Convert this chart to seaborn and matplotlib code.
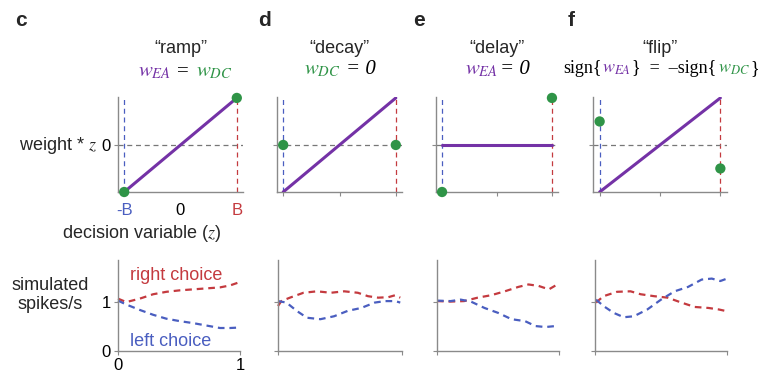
import numpy as np
import pandas as pd
import matplotlib
matplotlib.use("Agg")
import matplotlib.pyplot as plt
import seaborn as sns

# ---------------- data ----------------
panel_letters = ["c", "d", "e", "f"]
panel_titles = ["\u201cramp\u201d", "\u201cdecay\u201d", "\u201cdelay\u201d", "\u201cflip\u201d"]

# top row: weight * z as function of decision variable z (−B .. B)
z_ends = [-1, 1]
ramp_purple = [-1, 1]
decay_purple = [-1, 1]
delay_purple = [0, 0]
flip_purple = [-1, 1]
ramp_green = [-1, 1]
decay_green = [0, 0]
delay_green = [-1, 1]
flip_green = [0.5, -0.5]

# bottom row: simulated spikes/s vs normalized time
c_red_x = [0, .068, .178, .288, .397, .507, .616, .726, .836, .918, 1.0]
c_red_y = [1.07, 1.0, 1.07, 1.16, 1.21, 1.24, 1.26, 1.28, 1.30, 1.34, 1.41]
c_blue_x = [0, .068, .178, .288, .397, .507, .616, .726, .836, .918, 1.0]
c_blue_y = [1.03, 0.95, 0.84, 0.74, 0.66, 0.61, 0.57, 0.52, 0.47, 0.47, 0.48]

d_red_x = [0, .027, .096, .205, .315, .425, .534, .644, .726, .808, .890, .945, .986]
d_red_y = [0.92, 1.02, 1.09, 1.19, 1.22, 1.19, 1.22, 1.19, 1.12, 1.09, 1.10, 1.14, 1.09]
d_blue_x = [0, .068, .151, .233, .342, .452, .562, .671, .781, .863, .945, .986]
d_blue_y = [1.02, 0.99, 0.82, 0.68, 0.65, 0.71, 0.82, 0.88, 0.99, 1.02, 1.02, 0.99]

e_red_x = [0, .111, .222, .333, .444, .556, .667, .75, .833, .917, .986]
e_red_y = [1.02, 1.01, 1.02, 1.09, 1.14, 1.22, 1.31, 1.36, 1.33, 1.26, 1.36]
e_blue_x = [0, .111, .194, .278, .389, .5, .611, .722, .806, .889, .972]
e_blue_y = [1.03, 1.02, 1.05, 1.01, 0.88, 0.78, 0.65, 0.61, 0.51, 0.49, 0.51]

f_red_x = [.008, .064, .167, .269, .346, .449, .551, .654, .756, .859, .936, .987]
f_red_y = [0.99, 1.12, 1.21, 1.22, 1.16, 1.12, 1.09, 0.99, 0.90, 0.88, 0.85, 0.82]
f_blue_x = [.008, .064, .141, .218, .295, .397, .5, .603, .705, .808, .885, .949, 1.0]
f_blue_y = [1.05, 0.92, 0.78, 0.69, 0.71, 0.85, 1.05, 1.22, 1.31, 1.46, 1.48, 1.43, 1.48]

purple_sets = [ramp_purple, decay_purple, delay_purple, flip_purple]
green_sets = [ramp_green, decay_green, delay_green, flip_green]
bottom_sets = [
    (c_red_x, c_red_y, c_blue_x, c_blue_y),
    (d_red_x, d_red_y, d_blue_x, d_blue_y),
    (e_red_x, e_red_y, e_blue_x, e_blue_y),
    (f_red_x, f_red_y, f_blue_x, f_blue_y),
]

# ---------------- style ----------------
sns.set_style("ticks")
plt.rcParams["font.family"] = ["Liberation Sans", "DejaVu Sans"]
plt.rcParams["mathtext.fontset"] = "stix"

PURPLE = "#7432a6"
GREEN = "#2f9447"
RED = "#c43a3f"
BLUE = "#4a5ec0"
GRAY = "#8a8a8a"

W, H = 761, 377
fig = plt.figure(figsize=(W / 100, H / 100), dpi=100)


def px_axes(l, r, t, b):
    return fig.add_axes([l / W, 1 - b / H, (r - l) / W, (b - t) / H])


top_x = [(118, 243), (277, 402), (436, 558), (593, 727)]
bot_x = [(118, 240), (278, 402), (437, 559), (595, 727)]


def style_axes(ax):
    for s in ["top", "right"]:
        ax.spines[s].set_visible(False)
    for s in ["left", "bottom"]:
        ax.spines[s].set_color(GRAY)
        ax.spines[s].set_linewidth(1.0)
    ax.tick_params(colors=GRAY, length=3, width=0.8, labelcolor="black",
                   labelsize=12, pad=2)


# ---------------- top row ----------------
for i in range(4):
    l, r = top_x[i]
    ax = px_axes(l, r, 97, 192)
    ax.set_xlim(-1.11, 1.11)
    ax.set_ylim(-1, 1.02)
    style_axes(ax)
    ax.axvline(-1, color=BLUE, lw=0.9, ls=(0, (4, 3)), zorder=1)
    ax.axvline(1, color=RED, lw=0.9, ls=(0, (4, 3)), zorder=1)
    ax.axhline(0, color="#777777", lw=0.9, ls=(0, (4, 3)), zorder=1)
    sns.lineplot(x=z_ends, y=purple_sets[i], ax=ax, color=PURPLE, lw=2.2,
                 sort=False, zorder=3)
    sns.scatterplot(x=z_ends, y=green_sets[i], ax=ax, color=GREEN, s=55,
                    edgecolor="none", zorder=5, clip_on=False)
    ax.set_xticks([-1, 0, 1])
    ax.set_yticks([0])
    ax.set_xlabel("")
    ax.set_ylabel("")
    if i == 0:
        ax.set_xticklabels(["-B", "0", "B"])
        tl = ax.get_xticklabels()
        tl[0].set_color(BLUE)
        tl[2].set_color(RED)
        ax.set_yticklabels(["0"])
        ax.tick_params(axis="x", length=0, pad=8)
    else:
        ax.set_xticklabels([])
        ax.set_yticklabels([])

# ---------------- bottom row ----------------
for i in range(4):
    l, r = bot_x[i]
    ax = px_axes(l, r, 260, 351)
    ax.set_xlim(0, 1.0)
    ax.set_ylim(0, 1.86)
    style_axes(ax)
    rx, ry, bx, by = bottom_sets[i]
    sns.lineplot(x=rx, y=ry, ax=ax, color=RED, lw=1.6, sort=False,
                 linestyle=(0, (3, 2.2)), clip_on=False)
    sns.lineplot(x=bx, y=by, ax=ax, color=BLUE, lw=1.6, sort=False,
                 linestyle=(0, (3, 2.2)), clip_on=False)
    ax.set_xticks([0, 1])
    ax.set_yticks([0, 1])
    ax.set_xlabel("")
    ax.set_ylabel("")
    if i == 0:
        ax.set_xticklabels(["0", "1"])
        ax.set_yticklabels(["0", "1"])
        ax.text(0.1, 1.55, "right choice", color=RED, fontsize=13,
                va="center", ha="left")
        ax.text(0.1, 0.2, "left choice", color=BLUE, fontsize=13,
                va="center", ha="left")
    else:
        ax.set_xticklabels([])
        ax.set_yticklabels([])

# ---------------- text ----------------
renderer = fig.canvas.get_renderer()
SERIF_IT = dict(family=["Liberation Serif", "DejaVu Serif"], style="italic")
SERIF = dict(family=["Liberation Serif", "DejaVu Serif"])


def colored_line(xc_px, y_px, pieces, fs=13):
    """pieces: (text, color, gap_after_px, extra fontdict)"""
    texts, widths = [], []
    for s, c, gap, extra in pieces:
        t = fig.text(0, 1 - y_px / H, s, color=c, fontsize=fs,
                     ha="left", va="baseline", **extra)
        widths.append(t.get_window_extent(renderer).width + gap)
        texts.append(t)
    x0 = xc_px - sum(widths) / 2
    for t, w in zip(texts, widths):
        t.set_x(x0 / W)
        x0 += w


letter_x = [15, 258, 413, 568]
for i in range(4):
    fig.text(letter_x[i] / W, 1 - 26 / H, panel_letters[i], fontsize=15,
             fontweight="bold", ha="left", va="baseline")
    l, r = top_x[i]
    fig.text((l + r) / 2 / W, 1 - 53 / H, panel_titles[i], fontsize=13,
             ha="center", va="baseline")

colored_line(185, 76, [(r"$w_{EA}$", PURPLE, 6, {}),
                       ("=", "black", 7, SERIF),
                       (r"$w_{DC}$", GREEN, 0, {})], fs=15)
colored_line(340, 74, [(r"$w_{DC}$", GREEN, 5, {}),
                       ("= 0", "black", 0, SERIF_IT)], fs=15)
colored_line(497, 74, [(r"$w_{EA}$", PURPLE, 2, {}),
                       ("= 0", "black", 0, SERIF_IT)], fs=15)
colored_line(661, 73, [("sign{", "black", 1, SERIF),
                       (r"$w_{EA}$", PURPLE, 1, {}),
                       ("}  =  \u2013sign{", "black", 1, SERIF),
                       (r"$w_{DC}$", GREEN, 1, {}),
                       ("}", "black", 0, SERIF)], fs=13)

fig.text(97 / W, 1 - 146 / H, r"weight * $z$", fontsize=13, ha="right",
         va="center")
fig.text(141 / W, 1 - 233 / H, r"decision variable ($z$)", fontsize=13,
         ha="center", va="center")
fig.text(50 / W, 1 - 295 / H, "simulated\nspikes/s", fontsize=13,
         ha="center", va="center", linespacing=1.2)

fig.savefig("out.png", dpi=100)
